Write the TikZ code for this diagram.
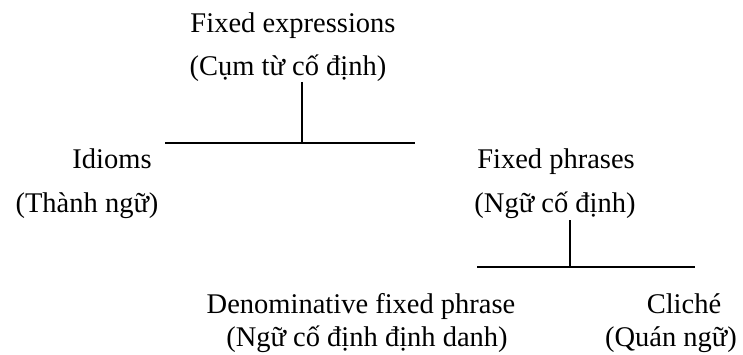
\documentclass[tikz,border=0pt]{standalone}
\usepackage{fontspec}
\setmainfont{Liberation Serif}
\begin{document}
\begin{tikzpicture}[x=1pt,y=-1pt,
  lbl/.style={anchor=base,inner sep=0pt,font=\fontsize{28.5}{34}\selectfont},
  branch/.style={line width=1.7pt}]
\useasboundingbox (0,0) rectangle (743,355);
% texts
\node[lbl] (fe) at (293,33) {Fixed expressions};
\node[lbl] (fev) at (288,76) {(Cụm từ cố định)};
\node[lbl] (id) at (112,169) {Idioms};
\node[lbl] (idv) at (87,213) {(Thành ngữ)};
\node[lbl] (fp) at (556,169) {Fixed phrases};
\node[lbl] (fpv) at (555,213) {(Ngữ cố định)};
\node[lbl] (dn) at (361,313) {Denominative fixed phrase};
\node[lbl] (dnv) at (367,346) {(Ngữ cố định định danh)};
\node[lbl] (cl) at (684,313) {Cliché};
\node[lbl] (clv) at (671,346) {(Quán ngữ)};
% connector points
\coordinate (t1) at (302,82);
\coordinate (j1) at (302,143);
\coordinate (l1) at (165,143);
\coordinate (r1) at (415,143);
\coordinate (t2) at (570,220);
\coordinate (j2) at (570,267);
\coordinate (l2) at (477,267);
\coordinate (r2) at (695,267);
\draw[branch] (t1) -- (j1);
\draw[branch] (l1) -- (r1);
\draw[branch] (t2) -- (j2);
\draw[branch] (l2) -- (r2);
\end{tikzpicture}
\end{document}
